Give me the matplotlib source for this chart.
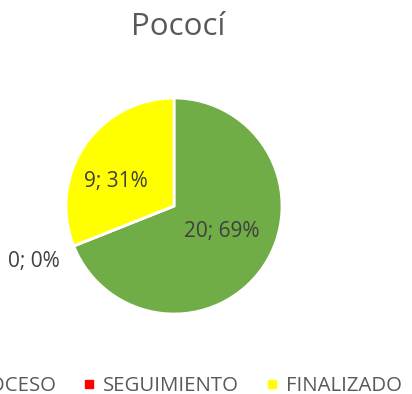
import numpy as np
import matplotlib
matplotlib.use("Agg")
import matplotlib.pyplot as plt
from matplotlib.lines import Line2D

# case status counts for the canton
estados = ["EN PROCESO", "SEGUIMIENTO", "FINALIZADO"]
casos = [20, 0, 9]
colores = ["#70AD47", "#FF0000", "#FFFF00"]
titulo = "Pococí"

plt.rcParams["font.family"] = ["Open Sans", "DejaVu Sans"]
gris = "#595959"
oscuro = "#404040"

fig = plt.figure(figsize=(4.12, 3.94), dpi=100)
W, H = 412, 394
cx, cy, r = 174, 206, 108
ax = fig.add_axes([(cx - r) / W, (H - cy - r) / H, 2 * r / W, 2 * r / H])

wedges, _ = ax.pie(casos, colors=colores, startangle=90, counterclock=False,
                   radius=1.0, wedgeprops=dict(edgecolor="white", linewidth=2))
ax.set_xlim(-1, 1)
ax.set_ylim(-1, 1)
ax.set_aspect("equal")
ax.axis("off")

total = sum(casos)
# data labels "value; percent": radius and angle shift per slice,
# the empty slice gets its label outside the pie
ajuste = {0: (0.50, 6.5), 1: (1.40, 0.0), 2: (0.585, 11.0)}
for i, (w, v) in enumerate(zip(wedges, casos)):
    d, shift = ajuste[i]
    if v == 0:
        mid = w.theta1
    else:
        mid = (w.theta1 + w.theta2) / 2
    ang = np.deg2rad(mid + shift)
    ax.text(d * np.cos(ang), d * np.sin(ang), f"{v}; {round(100 * v / total)}%",
            ha="center", va="center", fontsize=15, color=oscuro, clip_on=False)

fig.text(178 / W, 1 - 27 / H, titulo, ha="center", va="center",
         fontsize=22.5, color=gris)

handles = [Line2D([], [], marker="s", linestyle="none", markersize=6,
                  markerfacecolor=c, markeredgecolor=c) for c in colores]
leg = fig.legend(handles, estados, loc="center", ncol=3,
                 bbox_to_anchor=(155 / W, 1 - 386 / H), frameon=False,
                 fontsize=14.7, handletextpad=0.2, columnspacing=1.1,
                 handlelength=1.0, labelcolor=gris)

fig.savefig("out.png", dpi=100)
